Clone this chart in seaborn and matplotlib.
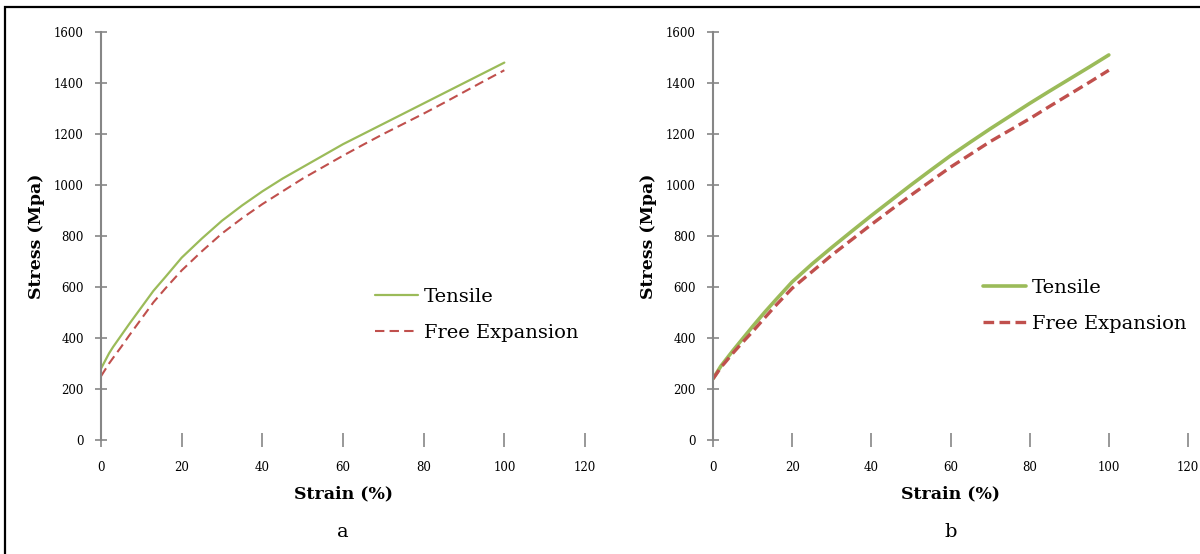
import numpy as np
import pandas as pd
import matplotlib
matplotlib.use('Agg')
import matplotlib.pyplot as plt
from matplotlib.patches import Rectangle
import seaborn as sns

# strain (%) sample points
strain = [0, 1, 2, 3, 5, 7, 10, 13, 16, 20, 25, 30, 35, 40, 45, 50,
          55, 60, 65, 70, 75, 80, 85, 90, 95, 100]

# panel a
tensile_a = [280, 310, 340, 365, 410, 455, 520, 585, 640, 715, 790, 860, 920,
             975, 1025, 1070, 1115, 1160, 1200, 1240, 1280, 1320, 1360, 1400,
             1440, 1480]
free_a = [250, 275, 300, 322, 365, 410, 475, 540, 595, 665, 740, 810, 870,
          925, 975, 1025, 1070, 1115, 1158, 1200, 1240, 1280, 1322, 1365,
          1408, 1450]

# panel b
tensile_b = [240, 265, 290, 310, 350, 388, 445, 500, 552, 620, 690, 755, 818,
             880, 940, 1000, 1058, 1115, 1168, 1220, 1270, 1320, 1368, 1415,
             1462, 1510]
free_b = [240, 262, 285, 303, 340, 375, 425, 478, 530, 595, 660, 725, 785,
          845, 903, 960, 1015, 1070, 1120, 1170, 1215, 1260, 1308, 1355,
          1402, 1450]

x_ticks = [0, 20, 40, 60, 80, 100, 120]
y_ticks = [0, 200, 400, 600, 800, 1000, 1200, 1400, 1600]

green = '#9BBB59'
red = '#C0504D'
axis_gray = '#868686'

sns.set_style('white')
plt.rcParams['font.family'] = ['DejaVu Serif']
plt.rcParams['text.color'] = 'black'
plt.rcParams['axes.labelcolor'] = 'black'
plt.rcParams['xtick.labelcolor'] = 'black'
plt.rcParams['ytick.labelcolor'] = 'black'

fig = plt.figure(figsize=(12, 5.54), dpi=100)

# outer frame of the figure
fig.add_artist(Rectangle((5 / 1200, -0.1), 1.2, 1 - 7 / 554 + 0.1,
                         transform=fig.transFigure, fill=False,
                         edgecolor='black', linewidth=1.6))

panels = [
    dict(rect=[101 / 1200, 1 - 440 / 554, 484 / 1200, 408 / 554],
         tensile=tensile_a, free=free_a, lw_t=1.6, lw_f=1.5,
         dash=(0, (4.5, 2.5)), leg=(375 / 1200, 1 - 315 / 554), cap='a'),
    dict(rect=[713 / 1200, 1 - 440 / 554, 475 / 1200, 408 / 554],
         tensile=tensile_b, free=free_b, lw_t=2.6, lw_f=2.4,
         dash=(0, (3.2, 1.6)), leg=(983 / 1200, 1 - 306 / 554), cap='b'),
]

for p in panels:
    ax = fig.add_axes(p['rect'])
    sns.lineplot(x=strain, y=p['tensile'], ax=ax, color=green,
                 linewidth=p['lw_t'], label='Tensile')
    sns.lineplot(x=strain, y=p['free'], ax=ax, color=red,
                 linewidth=p['lw_f'], linestyle=p['dash'], label='Free Expansion')

    ax.set_xlim(0, 120)
    ax.set_ylim(0, 1600)
    ax.set_xticks(x_ticks)
    ax.set_yticks(y_ticks)
    ax.set_xticklabels([str(v) for v in x_ticks], fontsize=8.5)
    ax.set_yticklabels([str(v) for v in y_ticks], fontsize=8.5)

    for s in ['top', 'right', 'bottom']:
        ax.spines[s].set_visible(False)
    ax.spines['left'].set_color(axis_gray)
    ax.spines['left'].set_linewidth(1.5)
    ax.tick_params(axis='y', direction='inout', length=9, width=1.2,
                   color=axis_gray, pad=8, left=True)
    ax.tick_params(axis='x', direction='inout', length=10, width=1.2,
                   color=axis_gray, pad=10, bottom=True)

    ax.set_xlabel('Strain (%)', fontsize=12.5, fontweight='bold', labelpad=8)
    ax.set_ylabel('Stress (Mpa)', fontsize=12.5, fontweight='bold', labelpad=6)

    ax.legend(loc='center left', bbox_to_anchor=p['leg'],
              bbox_transform=fig.transFigure, frameon=False, fontsize=14,
              handlelength=2.2, handletextpad=0.3, labelspacing=0.9,
              borderpad=0, borderaxespad=0)

    cx = p['rect'][0] + p['rect'][2] * 0.5
    fig.text(cx, 1 - 532 / 554, p['cap'], fontsize=14, ha='center', va='center')

fig.savefig('out.png', dpi=100)
